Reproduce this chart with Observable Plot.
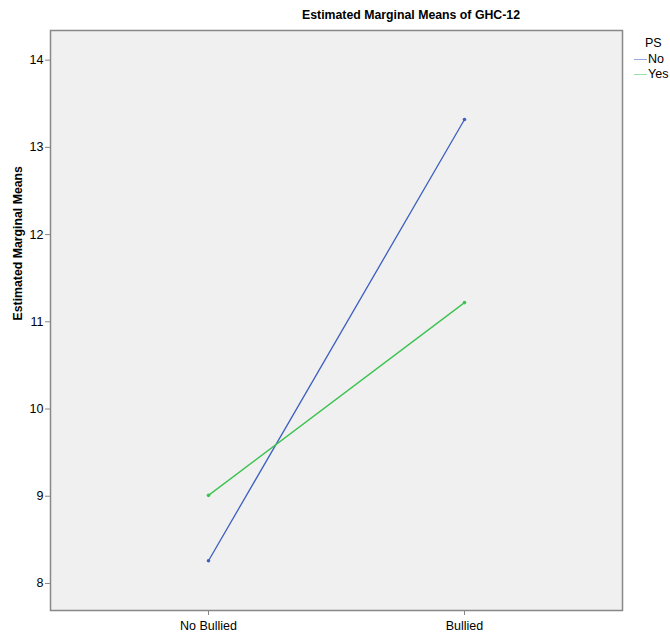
<!DOCTYPE html>
<html>
<head>
<meta charset="utf-8">
<script src="https://cdn.jsdelivr.net/npm/d3@7"></script>
<script src="https://cdn.jsdelivr.net/npm/@observablehq/plot@0.6"></script>
<style>
  html, body { margin: 0; padding: 0; background: #fff; }
  #wrap { position: relative; width: 670px; height: 632px; font-family: "Liberation Sans", Arial, sans-serif; }
  #title { position: absolute; left: 0; width: 822px; top: 8px; text-align: center; font-size: 12.3px; font-weight: bold; color: #000; }
  #legend { position: absolute; left: 634px; top: 36px; font-size: 12.5px; color: #000; line-height: 15.5px; }
  #legend .t { padding-left: 11px; }
  #legend .row { display: flex; align-items: center; }
  #legend .sw { display: inline-block; width: 13px; height: 1px; margin-right: 1px; }
</style>
</head>
<body>
<div id="wrap">
  <div id="chart"></div>
  <div id="title">Estimated Marginal Means of GHC-12</div>
  <div id="legend"></div>
</div>
<script>
const categories = ["No Bullied", "Bullied"];
const seriesNames = ["No", "Yes"];
const psNo = [8.26, 13.32];
const psYes = [9.01, 11.22];
const yTicks = [8, 9, 10, 11, 12, 13, 14];
const colors = ["#3d5fc0", "#3cc24f"];
const legendColors = ["#9aa8e0", "#9ddfa6"];

const rows = [];
categories.forEach((c, i) => {
  rows.push({cat: c, ps: "No", v: psNo[i]});
  rows.push({cat: c, ps: "Yes", v: psYes[i]});
});

const chart = Plot.plot({
  width: 670,
  height: 632,
  marginLeft: 50,
  marginRight: 48,
  marginTop: 30,
  marginBottom: 22,
  style: {fontFamily: "Liberation Sans, Arial, sans-serif", fontSize: "12.5px", color: "#000", background: "#fff"},
  x: {type: "point", domain: categories, padding: 0.615, label: null},
  y: {domain: [7.69, 14.34], ticks: yTicks, tickFormat: d3.format("d"), label: null},
  color: {domain: seriesNames, range: colors},
  marks: [
    Plot.frame({fill: "#f0f0f0", stroke: "none"}),
    Plot.line(rows, {x: "cat", y: "v", z: "ps", stroke: "ps", strokeWidth: 1.3}),
    Plot.dot(rows, {x: "cat", y: "v", fill: "ps", r: 1.8}),
    Plot.frame({stroke: "#888", strokeWidth: 1.5}),
    Plot.axisY({ticks: yTicks, tickFormat: d3.format("d"), tickSize: 5, tickPadding: 2, stroke: "#888", label: null}),
    Plot.axisX({tickSize: 5, tickPadding: 6, stroke: "#888", label: null}),
    Plot.text(["Estimated Marginal Means"], {frameAnchor: "left", rotate: -90, dx: -32, fontWeight: "bold", fontSize: 12.3})
  ]
});
document.getElementById("chart").appendChild(chart);

const legend = document.getElementById("legend");
legend.innerHTML = `<div class="t">PS</div>` + seriesNames.map((n, i) =>
  `<div class="row"><span class="sw" style="background:${legendColors[i]}"></span><span>${n}</span></div>`).join("");
</script>
</body>
</html>
